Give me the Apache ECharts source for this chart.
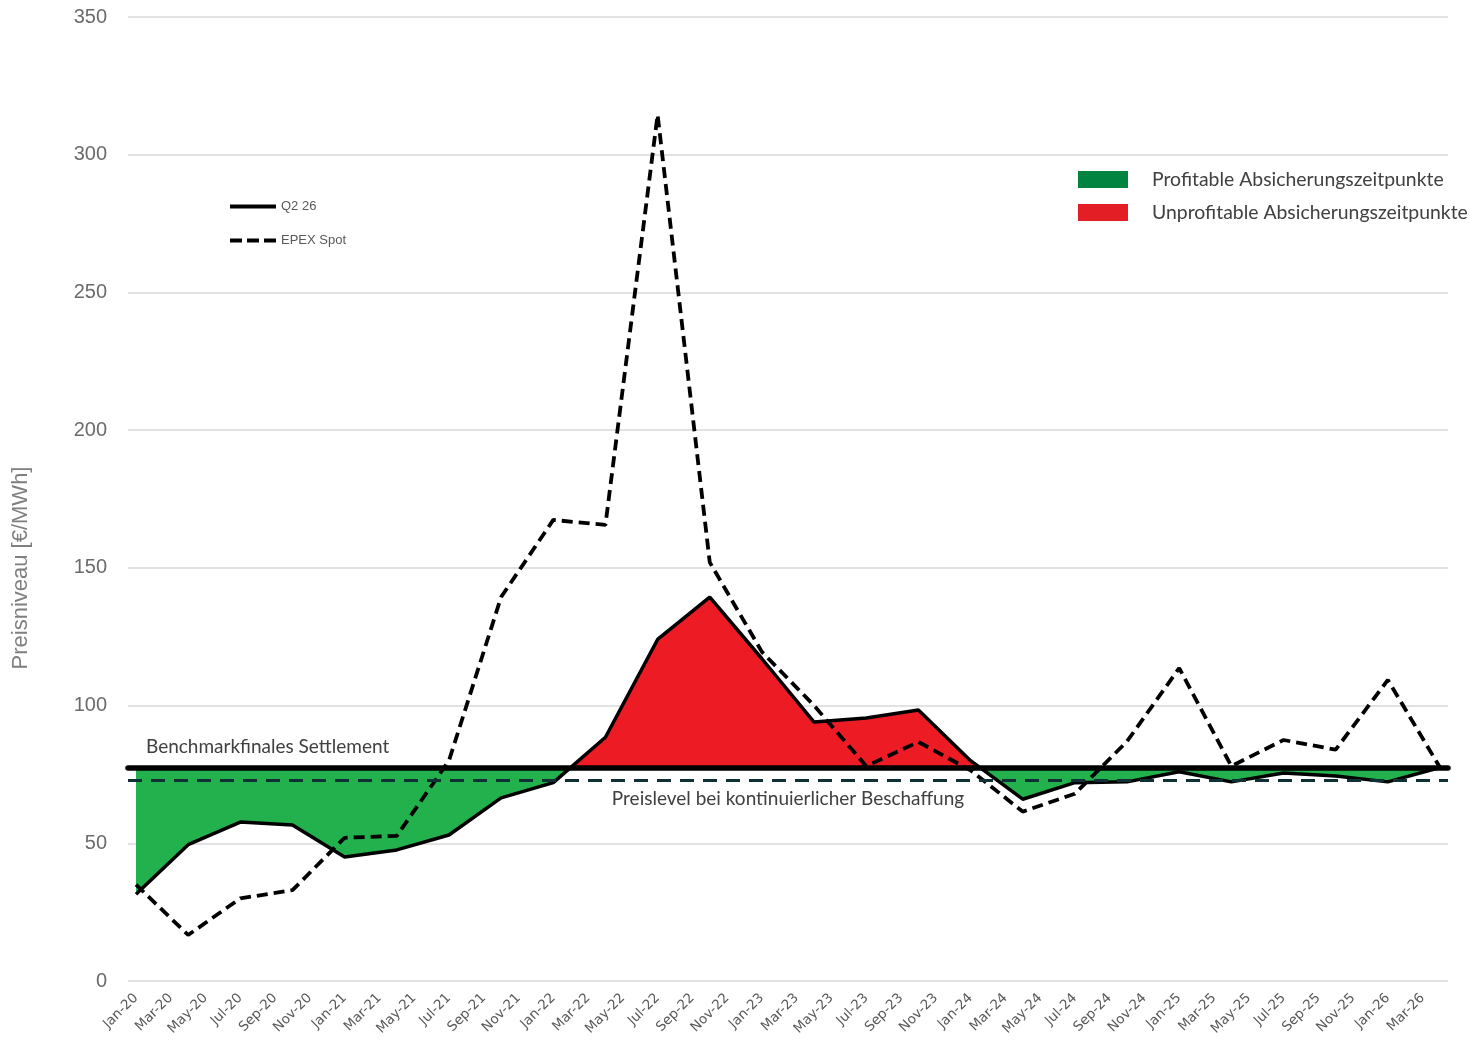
<!DOCTYPE html>
<html>
<head>
<meta charset="utf-8">
<title>Preisniveau Q2 26 vs. EPEX Spot</title>
<script src="https://cdn.jsdelivr.net/npm/echarts@6/dist/echarts.min.js"></script>
<style>
  html, body { margin: 0; padding: 0; background: #ffffff; }
  #chart { width: 1470px; height: 1043px; }
</style>
</head>
<body>
<div id="chart"></div>
<script>
// Month abbreviations used to turn "Mmm-yy" labels into a month offset from Jan-20
const MONTHS = ['Jan', 'Feb', 'Mar', 'Apr', 'May', 'Jun', 'Jul', 'Aug', 'Sep', 'Oct', 'Nov', 'Dec'];

// Bi-monthly tick labels on the time axis
const tickLabels = [
  'Jan-20', 'Mar-20', 'May-20', 'Jul-20', 'Sep-20', 'Nov-20',
  'Jan-21', 'Mar-21', 'May-21', 'Jul-21', 'Sep-21', 'Nov-21',
  'Jan-22', 'Mar-22', 'May-22', 'Jul-22', 'Sep-22', 'Nov-22',
  'Jan-23', 'Mar-23', 'May-23', 'Jul-23', 'Sep-23', 'Nov-23',
  'Jan-24', 'Mar-24', 'May-24', 'Jul-24', 'Sep-24', 'Nov-24',
  'Jan-25', 'Mar-25', 'May-25', 'Jul-25', 'Sep-25', 'Nov-25',
  'Jan-26', 'Mar-26'
];

// Quarterly observation dates
const quarterDates = [
  'Jan-20', 'Apr-20', 'Jul-20', 'Oct-20',
  'Jan-21', 'Apr-21', 'Jul-21', 'Oct-21',
  'Jan-22', 'Apr-22', 'Jul-22', 'Oct-22',
  'Jan-23', 'Apr-23', 'Jul-23', 'Oct-23',
  'Jan-24', 'Apr-24', 'Jul-24', 'Oct-24',
  'Jan-25', 'Apr-25', 'Jul-25', 'Oct-25',
  'Jan-26', 'Apr-26'
];

// Q2 26 forward price [€/MWh]
const q226Prices = [
  31.5, 49.5, 57.7, 56.6,
  45.0, 47.6, 53.0, 66.5,
  72.0, 88.5, 124.0, 139.4,
  117.0, 94.0, 95.5, 98.4,
  80.0, 66.0, 72.0, 72.3,
  76.0, 72.3, 75.5, 74.4,
  72.3, 77.5
];

// EPEX Spot price [€/MWh]
const epexSpotPrices = [
  35.0, 16.7, 30.0, 33.0,
  52.0, 52.7, 80.0, 139.4,
  167.4, 165.6, 314.5, 152.0,
  119.5, 100.0, 78.0, 86.8,
  76.5, 61.5, 68.0, 87.0,
  113.6, 78.0, 87.5, 84.0,
  109.3, 77.5
];

// Reference levels [€/MWh]
const benchmarkSettlement = 77.5;
const continuousProcurementLevel = 73.0;

// Y axis ticks
const yTicks = [0, 50, 100, 150, 200, 250, 300, 350];

const monthIndex = (label) => {
  const parts = label.split('-');
  return (Number(parts[1]) - 20) * 12 + MONTHS.indexOf(parts[0]);
};
const labelByMonth = {};
tickLabels.forEach((l) => { labelByMonth[monthIndex(l)] = l; });

const q226Data = quarterDates.map((d, i) => [monthIndex(d), q226Prices[i]]);
const epexData = quarterDates.map((d, i) => [monthIndex(d), epexSpotPrices[i]]);

const firstMonth = monthIndex(quarterDates[0]);
const lastMonth = monthIndex(quarterDates[quarterDates.length - 1]);
const xPad = 0.46;

const yMin = yTicks[0];
const yMax = yTicks[yTicks.length - 1];

const GREEN_FILL = '#22B14C';
const RED_FILL = '#ED1C24';
const GREEN_KEY = '#00843F';
const RED_KEY = '#E31E24';
const NOTE_FONT = 'Lato, "Open Sans", sans-serif';

// Legend keys: a solid bar and a three-dash bar
const SOLID_ICON = 'path://M0,0h46v4h-46z';
const DASH_ICON = 'path://M0,0h12v4h-12z M17,0h12v4h-12z M34,0h12v4h-12z';

const chart = echarts.init(document.getElementById('chart'), null, { renderer: 'canvas' });

chart.setOption({
  animation: false,
  backgroundColor: '#ffffff',
  grid: { left: 128, right: 22, top: 17, bottom: 62, containLabel: false },
  xAxis: {
    type: 'value',
    min: firstMonth - xPad,
    max: lastMonth + xPad,
    axisLine: { show: false },
    axisTick: { show: false },
    splitLine: { show: false },
    axisLabel: {
      customValues: tickLabels.map(monthIndex),
      formatter: (v) => labelByMonth[v] || '',
      rotate: 45,
      margin: 15,
      color: '#595959',
      fontSize: 13.5,
      fontFamily: '"DejaVu Sans", Verdana, sans-serif'
    }
  },
  yAxis: {
    type: 'value',
    min: yMin,
    max: yMax,
    interval: yTicks[1] - yTicks[0],
    axisLine: { show: false },
    axisTick: { show: false },
    axisLabel: {
      margin: 21,
      color: '#6b6b6b',
      fontSize: 20,
      fontFamily: '"Liberation Sans", Arial, sans-serif'
    },
    splitLine: { lineStyle: { color: '#d9d9d9', width: 1.5 } }
  },
  legend: {
    data: [
      { name: 'Q2 26', icon: SOLID_ICON },
      { name: 'EPEX Spot', icon: DASH_ICON }
    ],
    orient: 'vertical',
    left: 230,
    top: 200,
    padding: 0,
    itemWidth: 46,
    itemHeight: 4,
    itemGap: 21,
    selectedMode: false,
    textStyle: {
      color: '#595959',
      fontSize: 13,
      fontFamily: '"Liberation Sans Narrow", "Liberation Sans", Arial, sans-serif'
    }
  },
  visualMap: {
    type: 'piecewise',
    show: false,
    seriesIndex: 0,
    dimension: 1,
    pieces: [
      { gte: yMin, lt: benchmarkSettlement, color: GREEN_FILL },
      { gte: benchmarkSettlement, lte: yMax, color: RED_FILL }
    ]
  },
  series: [
    {
      // Fill between the Q2 26 curve and the benchmark settlement
      name: 'Absicherung',
      type: 'line',
      data: q226Data,
      symbol: 'none',
      silent: true,
      lineStyle: { width: 0, opacity: 0 },
      areaStyle: { opacity: 1, origin: benchmarkSettlement },
      z: 1
    },
    {
      name: 'EPEX Spot',
      type: 'line',
      data: epexData,
      symbol: 'none',
      color: '#000000',
      lineStyle: { color: '#000000', width: 3.8, type: [11, 6] },
      z: 3
    },
    {
      name: 'Q2 26',
      type: 'line',
      data: q226Data,
      symbol: 'none',
      color: '#000000',
      lineStyle: { color: '#000000', width: 3.5 },
      z: 4,
      markLine: {
        silent: true,
        symbol: ['none', 'none'],
        animation: false,
        data: [
          {
            yAxis: continuousProcurementLevel,
            lineStyle: { color: '#0F3136', width: 3, type: [14, 9] },
            label: {
              show: true,
              position: 'insideMiddleBottom',
              distance: 9,
              formatter: 'Preislevel bei kontinuierlicher Beschaffung',
              color: '#404040',
              fontSize: 19,
              fontFamily: NOTE_FONT
            }
          },
          {
            yAxis: benchmarkSettlement,
            lineStyle: { color: '#000000', width: 5.5, type: 'solid', cap: 'round' },
            label: {
              show: true,
              position: 'insideStartTop',
              distance: [18, 11],
              formatter: 'Benchmarkfinales Settlement',
              color: '#404040',
              fontSize: 19,
              fontFamily: NOTE_FONT
            }
          }
        ]
      }
    }
  ],
  graphic: [
    {
      type: 'text',
      x: 21,
      y: 568,
      rotation: Math.PI / 2,
      style: {
        text: 'Preisniveau [€/MWh]',
        fill: '#7f7f7f',
        fontSize: 22,
        fontFamily: '"Liberation Sans", Arial, sans-serif',
        align: 'center',
        verticalAlign: 'middle'
      }
    },
    {
      type: 'rect',
      shape: { x: 1078, y: 171, width: 50, height: 17 },
      style: { fill: GREEN_KEY }
    },
    {
      type: 'text',
      x: 1152,
      y: 180,
      style: {
        text: 'Profitable Absicherungszeitpunkte',
        fill: '#404040',
        fontSize: 19.4,
        fontFamily: NOTE_FONT,
        verticalAlign: 'middle'
      }
    },
    {
      type: 'rect',
      shape: { x: 1078, y: 204, width: 50, height: 17 },
      style: { fill: RED_KEY }
    },
    {
      type: 'text',
      x: 1152,
      y: 213,
      style: {
        text: 'Unprofitable Absicherungszeitpunkte',
        fill: '#404040',
        fontSize: 19.4,
        fontFamily: NOTE_FONT,
        verticalAlign: 'middle'
      }
    }
  ]
});
</script>
</body>
</html>
